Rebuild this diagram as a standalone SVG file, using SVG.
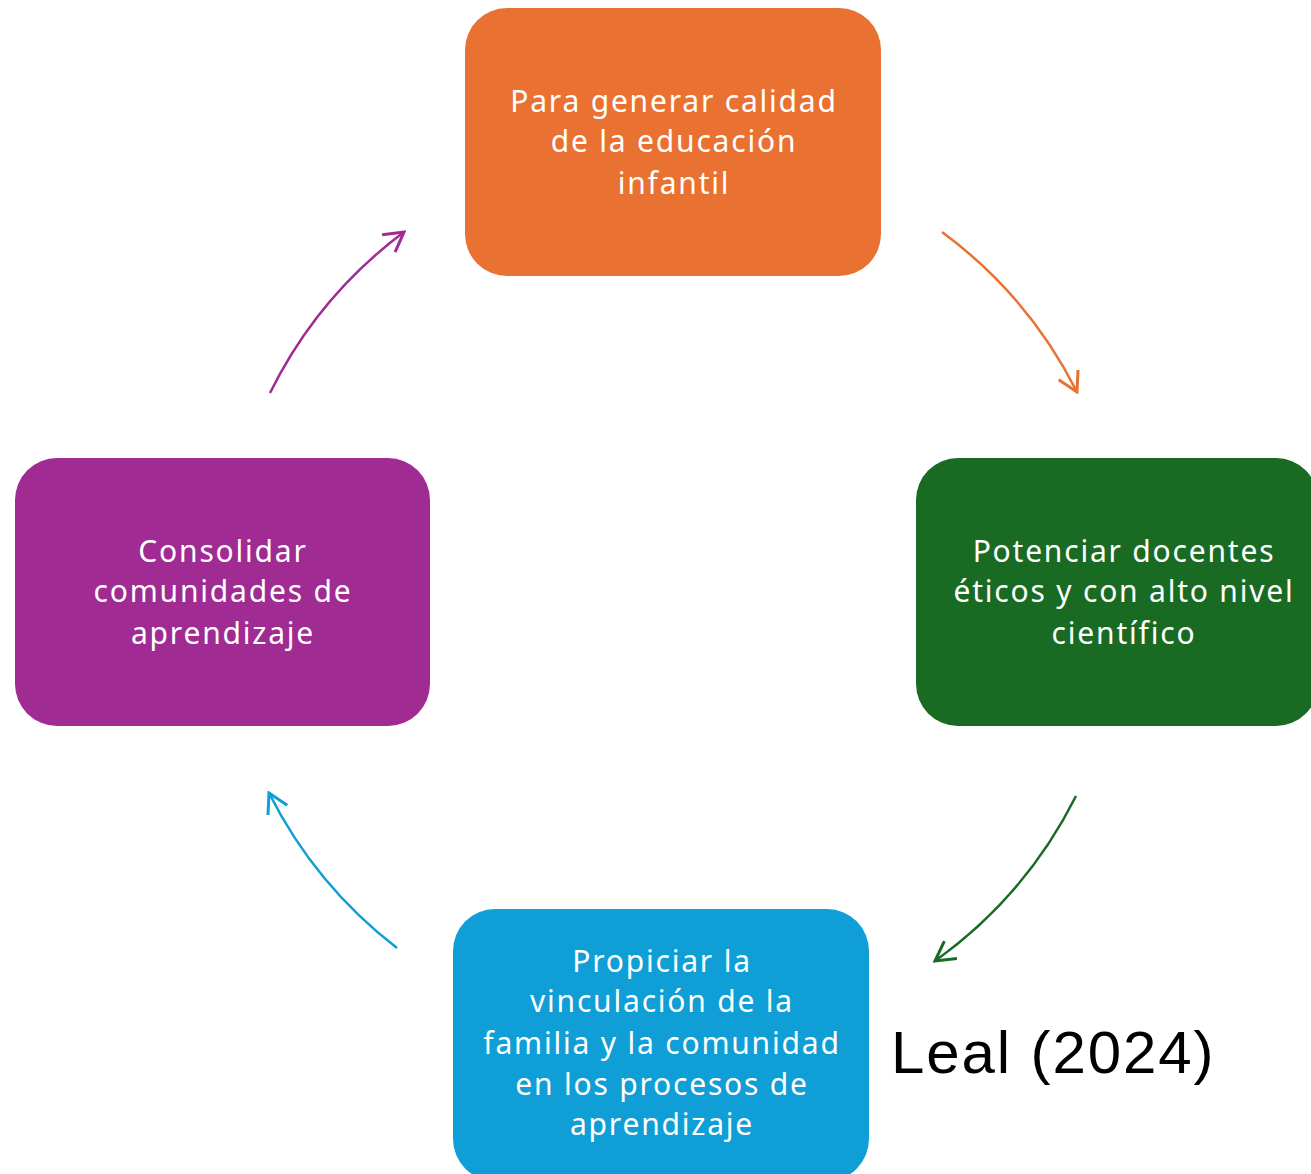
<svg xmlns="http://www.w3.org/2000/svg" width="1311" height="1174" viewBox="0 0 1311 1174">
<style>
.t{font-family:"Noto Sans","Open Sans",sans-serif;font-size:30px;fill:#fff;text-anchor:middle;letter-spacing:1.8px}
.c{fill:none;stroke-width:2.5}
</style>
<defs>
<marker id="mo" markerUnits="userSpaceOnUse" markerWidth="24" markerHeight="24" refX="18" refY="10" orient="auto" viewBox="0 0 20 20"><path d="M2,1 L18,10 L2,19" fill="none" stroke="#E97132" stroke-width="2.5"/></marker>
<marker id="mg" markerUnits="userSpaceOnUse" markerWidth="24" markerHeight="24" refX="18" refY="10" orient="auto" viewBox="0 0 20 20"><path d="M2,1 L18,10 L2,19" fill="none" stroke="#196B24" stroke-width="2.5"/></marker>
<marker id="mb" markerUnits="userSpaceOnUse" markerWidth="24" markerHeight="24" refX="18" refY="10" orient="auto" viewBox="0 0 20 20"><path d="M2,1 L18,10 L2,19" fill="none" stroke="#0F9ED5" stroke-width="2.5"/></marker>
<marker id="mp" markerUnits="userSpaceOnUse" markerWidth="24" markerHeight="24" refX="18" refY="10" orient="auto" viewBox="0 0 20 20"><path d="M2,1 L18,10 L2,19" fill="none" stroke="#A02B93" stroke-width="2.5"/></marker>
</defs>
<rect width="1311" height="1174" fill="#fff"/>
<g id="connectors">
<path class="c" stroke="#E97132" d="M942,232 A450,450 0 0 1 1077,392" marker-end="url(#mo)"/>
<path class="c" stroke="#196B24" d="M1076,796 A452,452 0 0 1 935,961" marker-end="url(#mg)"/>
<path class="c" stroke="#0F9ED5" d="M397,948 A452,452 0 0 1 269,793" marker-end="url(#mb)"/>
<path class="c" stroke="#A02B93" d="M270,393 A449,449 0 0 1 404,232" marker-end="url(#mp)"/>
</g>
<g id="node1">
<rect x="465" y="8" width="416" height="268" rx="42" fill="#E97132"/>
<text class="t"><tspan x="674" y="112">Para generar calidad</tspan><tspan x="674" y="152">de la educación</tspan><tspan x="674" y="194">infantil</tspan></text>
</g>
<g id="node2">
<rect x="916" y="458" width="402" height="268" rx="42" fill="#196B24"/>
<text class="t"><tspan x="1124" y="562">Potenciar docentes</tspan><tspan x="1124" y="602">éticos y con alto nivel</tspan><tspan x="1124" y="644">científico</tspan></text>
</g>
<g id="node3">
<rect x="453" y="909" width="416" height="272" rx="42" fill="#0F9ED5"/>
<text class="t"><tspan x="662" y="972">Propiciar la</tspan><tspan x="662" y="1012">vinculación de la</tspan><tspan x="662" y="1054">familia y la comunidad</tspan><tspan x="662" y="1095">en los procesos de</tspan><tspan x="662" y="1135">aprendizaje</tspan></text>
</g>
<g id="node4">
<rect x="15" y="458" width="415" height="268" rx="42" fill="#A02B93"/>
<text class="t"><tspan x="223" y="562">Consolidar</tspan><tspan x="223" y="602">comunidades de</tspan><tspan x="223" y="644">aprendizaje</tspan></text>
</g>
<g id="caption">
<text x="891" y="1073" font-family="Liberation Sans, Arial, sans-serif" font-size="60" letter-spacing="1.9" fill="#000">Leal (2024)</text>
</g>
</svg>
